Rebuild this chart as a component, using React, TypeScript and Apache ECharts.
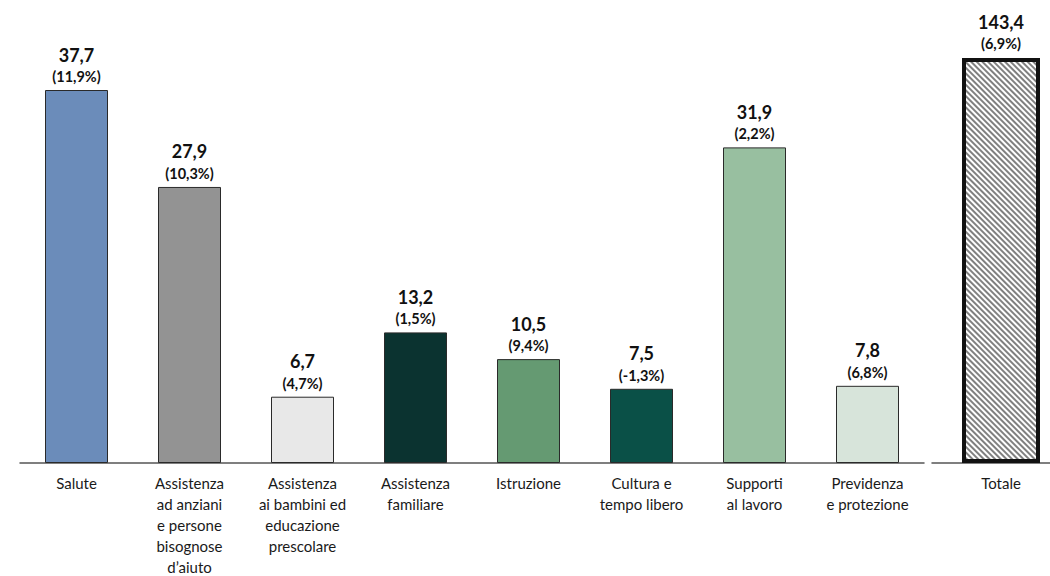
import React, { useEffect, useRef } from "react";
import * as echarts from "echarts";

const categories = [
  "Salute",
  "Assistenza\nad anziani\ne persone\nbisognose\nd’aiuto",
  "Assistenza\nai bambini ed\neducazione\nprescolare",
  "Assistenza\nfamiliare",
  "Istruzione",
  "Cultura e\ntempo libero",
  "Supporti\nal lavoro",
  "Previdenza\ne protezione",
];
const values = [37.7, 27.9, 6.7, 13.2, 10.5, 7.5, 31.9, 7.8];
const changes = ["11,9%", "10,3%", "4,7%", "1,5%", "9,4%", "-1,3%", "2,2%", "6,8%"];
const colors = ["#6b8cba", "#939393", "#e8e8e8", "#0b3330", "#659a72", "#0a5047", "#98bfa0", "#d7e4da"];

const totalCategory = ["Totale"];
const totalValues = [143.4];
const totalChanges = ["6,9%"];

const FONT = "Lato, 'Open Sans', sans-serif";
const fmt = (v: number) => v.toFixed(1).replace(".", ",");

const labelRich = {
  a: { fontSize: 18, fontWeight: "bold", color: "#111", fontFamily: FONT, lineHeight: 21 },
  b: { fontSize: 14.5, fontWeight: "bold", color: "#111", fontFamily: FONT, lineHeight: 23 },
};

const axisLabelStyle = {
  interval: 0,
  color: "#1a1a1a",
  fontFamily: FONT,
  fontSize: 15,
  lineHeight: 21,
  margin: 9,
};

export default function App() {
  const ref = useRef<HTMLDivElement>(null);
  useEffect(() => {
    if (!ref.current) return;
    const chart = echarts.init(ref.current, null, { renderer: "svg" });
    chart.setOption({
      animation: false,
      backgroundColor: "#ffffff",
      grid: [
        { left: 20, width: 904, top: 90, height: 373, outerBoundsMode: "none", containLabel: false },
        { left: 932, width: 138, top: 58, height: 405, outerBoundsMode: "none", containLabel: false },
      ],
      xAxis: [
        {
          type: "category",
          gridIndex: 0,
          data: categories,
          axisLine: { lineStyle: { color: "#555", width: 1.5 } },
          axisTick: { show: false },
          axisLabel: axisLabelStyle,
        },
        {
          type: "category",
          gridIndex: 1,
          data: totalCategory,
          axisLine: { lineStyle: { color: "#555", width: 1.5 } },
          axisTick: { show: false },
          axisLabel: axisLabelStyle,
        },
      ],
      yAxis: [
        { type: "value", gridIndex: 0, min: 0, max: 37.7, show: false },
        { type: "value", gridIndex: 1, min: 0, max: 143.4, show: false },
      ],
      series: [
        {
          type: "bar",
          xAxisIndex: 0,
          yAxisIndex: 0,
          barWidth: 63,
          data: values.map((v, i) => ({
            value: v,
            itemStyle: { color: colors[i], borderColor: "#2a2a2a", borderWidth: 1 },
          })),
          label: {
            show: true,
            position: "top",
            distance: 2,
            align: "center",
            formatter: (p: any) => `{a|${fmt(p.value)}}\n{b|(${changes[p.dataIndex]})}`,
            rich: labelRich,
          },
        },
        {
          type: "bar",
          xAxisIndex: 1,
          yAxisIndex: 1,
          barWidth: 78,
          data: totalValues.map((v) => ({
            value: v,
            itemStyle: {
              color: "#ffffff",
              borderColor: "#111",
              borderWidth: 4,
              decal: {
                symbol: "rect",
                symbolSize: 1,
                dashArrayX: [1, 0],
                dashArrayY: [1.5, 1.5],
                rotation: Math.PI / 4,
                color: "#808080",
                backgroundColor: "#e8e8e8",
              },
            },
          })),
          label: {
            show: true,
            position: "top",
            distance: 3,
            align: "center",
            formatter: (p: any) => `{a|${fmt(p.value)}}\n{b|(${totalChanges[p.dataIndex]})}`,
            rich: labelRich,
          },
        },
      ],
    });
    return () => chart.dispose();
  }, []);
  return (
    <div
      ref={ref}
      style={{ position: "fixed", left: 0, top: 0, width: 1050, height: 576, background: "#fff" }}
    />
  );
}
